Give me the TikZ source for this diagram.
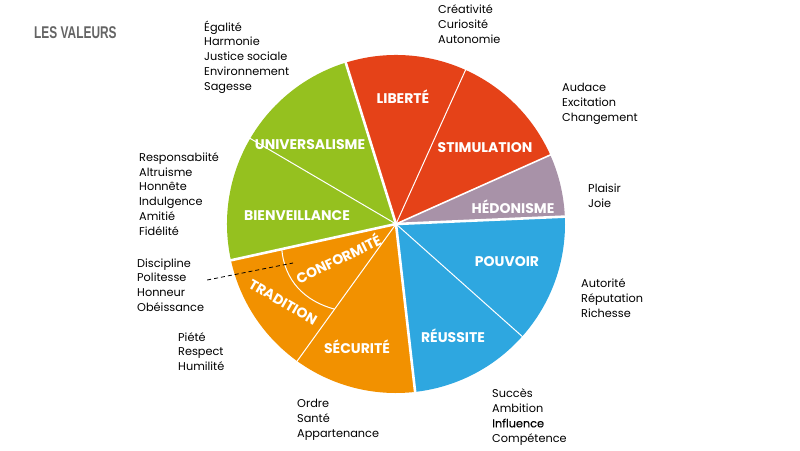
\documentclass[tikz,border=0pt]{standalone}
\usepackage{fontspec}
\setmainfont{Poppins}
\newfontfamily\titlefont[FakeStretch=0.7]{Liberation Sans}
\definecolor{vert}{RGB}{149,193,31}
\definecolor{rouge}{RGB}{229,66,24}
\definecolor{mauve}{RGB}{168,146,168}
\definecolor{bleu}{RGB}{46,167,224}
\definecolor{orange}{RGB}{242,145,0}
\definecolor{titregris}{RGB}{100,100,100}

\begin{document}
\begin{tikzpicture}[
  x=1pt, y=1pt,
  part/.style={
    font=\fontsize{14}{14}\selectfont\bfseries,
    text=white, inner sep=0pt},
  liste/.style={
    font=\fontsize{11.3}{14.8}\selectfont,
    align=left, anchor=west, inner sep=0pt},
  septhick/.style={draw=white, line width=2.6pt},
  sepmid/.style={draw=white, line width=1.6pt},
  septhin/.style={draw=white, line width=1pt},
]
  \useasboundingbox (0,0) rectangle (800,450);
  \coordinate (c) at (396,226);

  \fill[vert]   (c) -- ++(107.3:169pt) arc[start angle=107.3, end angle=192.4, radius=169pt] -- cycle;
  \fill[rouge]  (c) -- ++(24.1:169pt)  arc[start angle=24.1,  end angle=107.3, radius=169pt] -- cycle;
  \fill[mauve]  (c) -- ++(2.5:169pt)   arc[start angle=2.5,   end angle=24.1,  radius=169pt] -- cycle;
  \fill[bleu]   (c) -- ++(-83.5:169pt) arc[start angle=-83.5, end angle=2.5,   radius=169pt] -- cycle;
  \fill[orange] (c) -- ++(192.4:169pt) arc[start angle=192.4, end angle=276.5, radius=169pt] -- cycle;

  \draw[septhick] (c) -- ++(107.3:172pt);
  \draw[septhick] (c) -- ++(2.5:172pt);
  \draw[septhick] (c) -- ++(-83.5:172pt);
  \draw[septhick] (c) -- ++(192.4:172pt);
  \draw[sepmid]   (c) -- ++(24.1:172pt);
  \draw[septhin]  (c) -- ++(65.7:172pt);
  \draw[septhin]  (c) -- ++(-41.7:172pt);
  \draw[septhin]  (c) -- ++(234.2:172pt);
  \draw[septhin]  (c) -- ++(149.6:172pt);

  \coordinate (confA) at ([shift={(192.4:117pt)}]c);
  \coordinate (confB) at ([shift={(234.2:105pt)}]c);
  \draw[septhin] (confA) to[out=-85, in=165] (confB);

  \node[part]            (liberte)     at (403,353) {LIBERTÉ};
  \node[part]            (stimulation) at (485,302) {STIMULATION};
  \node[part]            (hedonisme)   at (513,243) {HÉDONISME};
  \node[part]            (universel)   at (310,305) {UNIVERSALISME};
  \node[part]            (bienveil)    at (297,234) {BIENVEILLANCE};
  \node[part]            (pouvoir)     at (507,188) {POUVOIR};
  \node[part]            (reussite)    at (453,114) {RÉUSSITE};
  \node[part]            (securite)    at (357,103) {SÉCURITÉ};
  \node[part, rotate=-30] (tradition)  at (283,148) {TRADITION};
  \node[part, rotate=26]  (conformite) at (338,192) {CONFORMITÉ};

  \node[font=\titlefont\bfseries\fontsize{17}{17}\selectfont,
        text=titregris, anchor=west, inner sep=0pt] (titre) at (34,417) {LES VALEURS};

  \node[liste] (univList)  at (204,393)   {Égalité\\Harmonie\\Justice sociale\\Environnement\\Sagesse};
  \node[liste] (libList)   at (438,426)   {Créativité\\Curiosité\\Autonomie};
  \node[liste] (stimList)  at (562,346)   {Audace\\Excitation\\Changement};
  \node[liste] (hedList)   at (588,254.5) {Plaisir\\Joie};
  \node[liste] (pouvList)  at (581,152)   {Autorité\\Réputation\\Richesse};
  \node[liste] (reusList)  at (492,33)    {Succès\\Ambition\\{\addfontfeatures{FakeBold=0.6}Influence}\\Compétence};
  \node[liste] (secList)   at (297,30.5)  {Ordre\\Santé\\Appartenance};
  \node[liste] (tradList)  at (178,98.5)  {Piété\\Respect\\Humilité};
  \node[liste] (confList)  at (137,165)   {Discipline\\Politesse\\Honneur\\Obéissance};
  \node[liste] (bienvList) at (139,256)   {Responsabiité\\Altruisme\\Honnête\\Indulgence\\Amitié\\Fidélité};

  \coordinate (confTip) at (293,187);
  \draw[dash pattern=on 4pt off 3pt, line width=0.8pt]
      ([shift={(3pt,5pt)}]confList.east) -- (confTip);
\end{tikzpicture}
\end{document}
